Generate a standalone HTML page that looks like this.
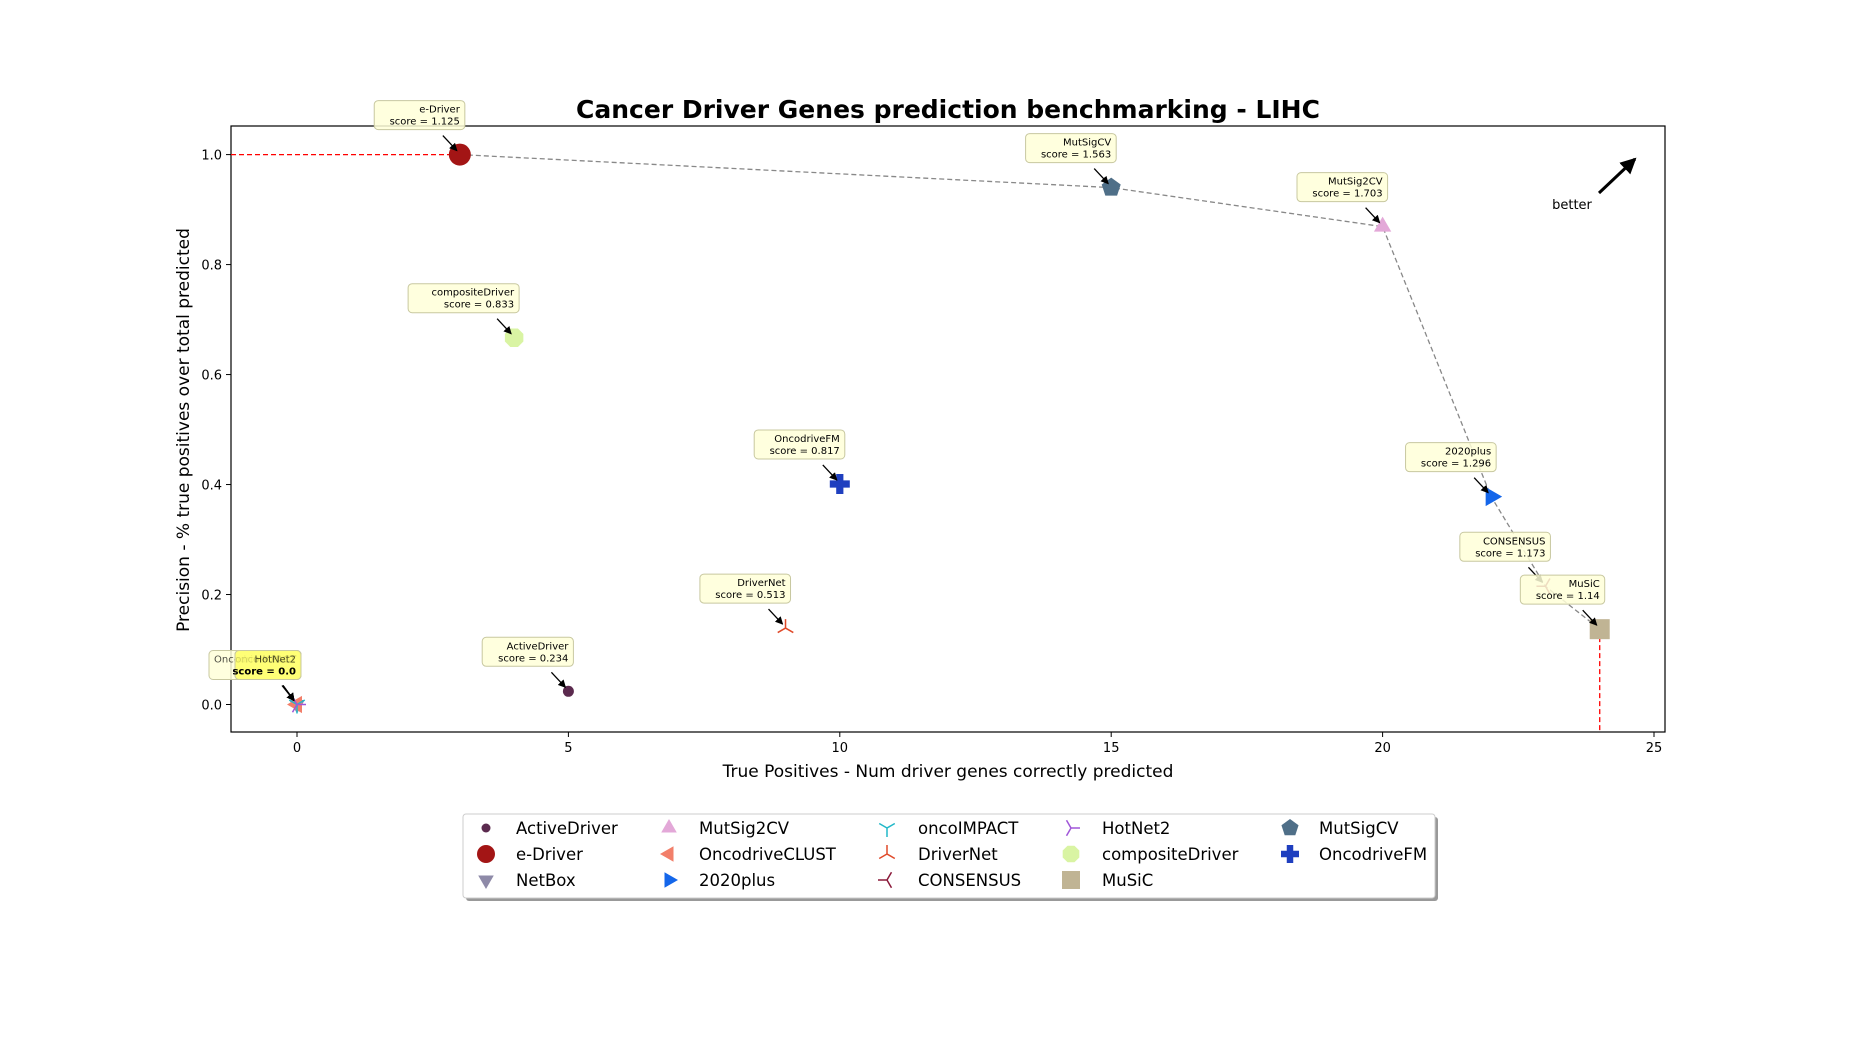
<!DOCTYPE html>
<html><head><meta charset="utf-8"><style>
html,body{margin:0;padding:0;background:#fff;}
svg{display:block;font-family:"DejaVu Sans","Liberation Sans",sans-serif;}
</style></head><body>
<svg id="chart" width="1850" height="1050" viewBox="0 0 1850 1050" xmlns="http://www.w3.org/2000/svg">
<defs><marker id="ah" markerWidth="8" markerHeight="8" refX="7" refY="4" orient="auto" markerUnits="userSpaceOnUse"><path d="M0,0 L8,4 L0,8 Z" fill="#000"/></marker>
<marker id="ahb" markerWidth="16" markerHeight="16" refX="14" refY="8" orient="auto" markerUnits="userSpaceOnUse"><path d="M0,0 L16,8 L0,16 Z" fill="#000"/></marker></defs>
<text x="948" y="118" text-anchor="middle" font-size="25" font-weight="bold">Cancer Driver Genes prediction benchmarking - LIHC</text>
<g id="plot"></g>
</svg>
<script>
const methods = ["ActiveDriver","e-Driver","NetBox","MutSig2CV","OncodriveCLUST","2020plus","oncoIMPACT","DriverNet","CONSENSUS","HotNet2","compositeDriver","MuSiC","MutSigCV","OncodriveFM"];
const truePositives = [5,3,0,20,0,22,0,9,23,0,4,24,15,10];
const precisions = [0.024,1.0,0,0.869,0,0.378,0,0.139,0.215,0,0.667,0.137,0.94,0.401];
const scores = ["0.234","1.125","0.0","1.703","0.0","1.296","0.0","0.513","1.173","0.0","0.833","1.14","1.563","0.817"];
const paretoFront = ["e-Driver","MutSigCV","MutSig2CV","2020plus","CONSENSUS","MuSiC"];
const xTicks = [0,5,10,15,20,25];
const yTicks = [0.0,0.2,0.4,0.6,0.8,1.0];

const style = {
 "ActiveDriver":{c:"#5b2a4e",m:"circle",s:5.5},
 "e-Driver":{c:"#a31515",m:"circle",s:11},
 "NetBox":{c:"#8e8aa8",m:"tridown",s:9},
 "MutSig2CV":{c:"#e3a8d8",m:"triup",s:10},
 "OncodriveCLUST":{c:"#f27f6a",m:"trileft",s:10},
 "2020plus":{c:"#1466ea",m:"triright",s:11},
 "oncoIMPACT":{c:"#22b8c8",m:"y",s:9},
 "DriverNet":{c:"#e04a2a",m:"ytri",s:9},
 "CONSENSUS":{c:"#8b1a3a",m:"yleft",s:9},
 "HotNet2":{c:"#a056d8",m:"yright",s:9},
 "compositeDriver":{c:"#d9f4a3",m:"octagon",s:10},
 "MuSiC":{c:"#c0b494",m:"square",s:10},
 "MutSigCV":{c:"#4f6f88",m:"pentagon",s:10},
 "OncodriveFM":{c:"#1f3fbf",m:"plus",s:10}
};
const L=231,R=1665,T=126,B=732;
const x0=297, xu=(1654-297)/25;
const y0=704.5, yu=(704.5-154.6)/1.0;
function X(v){return x0+v*xu;}
function Y(v){return y0-v*yu;}
const NS="http://www.w3.org/2000/svg";
const plot=document.getElementById('plot');
function el(tag,attrs,parent){const e=document.createElementNS(NS,tag);for(const k in attrs)e.setAttribute(k,attrs[k]);(parent||plot).appendChild(e);return e;}
function poly(n,r,rot){let p=[];for(let i=0;i<n;i++){const a=rot+i*2*Math.PI/n;p.push((r*Math.cos(a)).toFixed(2)+","+(r*Math.sin(a)).toFixed(2));}return p.join(" ");}
function drawMarker(g,m,c,s){
 if(m==="circle")return el('circle',{cx:0,cy:0,r:s,fill:c},g);
 if(m==="square")return el('rect',{x:-s,y:-s,width:2*s,height:2*s,fill:c},g);
 if(m==="octagon")return el('polygon',{points:poly(8,s,Math.PI/8),fill:c},g);
 if(m==="pentagon")return el('polygon',{points:poly(5,s,-Math.PI/2),fill:c},g);
 if(m==="triup")return el('polygon',{points:poly(3,s,-Math.PI/2),fill:c},g);
 if(m==="tridown")return el('polygon',{points:poly(3,s,Math.PI/2),fill:c},g);
 if(m==="trileft")return el('polygon',{points:poly(3,s,Math.PI),fill:c},g);
 if(m==="triright")return el('polygon',{points:poly(3,s,0),fill:c},g);
 if(m==="plus"){const w=s*0.36;return el('path',{d:`M${-w},${-s}H${w}V${-w}H${s}V${w}H${w}V${s}H${-w}V${w}H${-s}V${-w}H${-w}Z`,fill:c},g);}
 const rot={y:-Math.PI/2,ytri:Math.PI/2,yleft:Math.PI,yright:0}[m];
 let d="";for(let i=0;i<3;i++){const a=rot+i*2*Math.PI/3;d+=`M0,0L${(s*Math.cos(a)).toFixed(2)},${(-s*Math.sin(a)).toFixed(2)}`;}
 return el('path',{d:d,stroke:c,"stroke-width":1.5,fill:"none"},g);
}
const frame=el('rect',{x:L,y:T,width:R-L,height:B-T,fill:"none",stroke:"#000","stroke-width":1.2});


xTicks.forEach(v=>{
 const g=el('g',{});
 
 
 el('line',{x1:X(v),x2:X(v),y1:B,y2:B+5,stroke:"#000"},g);
 const t=el('text',{x:X(v),y:B+20,"text-anchor":"middle","font-size":13},g);t.textContent=v;
});
yTicks.forEach(v=>{
 const g=el('g',{});
 
 
 el('line',{x1:L-5,x2:L,y1:Y(v),y2:Y(v),stroke:"#000"},g);
 const t=el('text',{x:L-9,y:Y(v)+5,"text-anchor":"end","font-size":13},g);t.textContent=v.toFixed(1);
});
const xl=el('text',{x:948,y:777,"text-anchor":"middle","font-size":17});xl.textContent="True Positives - Num driver genes correctly predicted";


const yl=el('text',{x:0,y:0,"text-anchor":"middle","font-size":17,transform:"translate(189,430) rotate(-90)"});yl.textContent="Precision - % true positives over total predicted";


const idx=n=>methods.indexOf(n);
const first=idx(paretoFront[0]), last=idx(paretoFront[paretoFront.length-1]);
const r1=el('line',{x1:L,y1:Y(precisions[first]),x2:X(truePositives[first]),y2:Y(precisions[first]),stroke:"#f00","stroke-width":1.3,"stroke-dasharray":"5,3"});


const r2=el('line',{x1:X(truePositives[last]),y1:Y(precisions[last]),x2:X(truePositives[last]),y2:B,stroke:"#f00","stroke-width":1.3,"stroke-dasharray":"5,3"});


const pf=el('polyline',{points:paretoFront.map(n=>X(truePositives[idx(n)])+","+Y(precisions[idx(n)])).join(" "),fill:"none",stroke:"#888","stroke-width":1.3,"stroke-dasharray":"5,3"});


methods.forEach((n,i)=>{
 const st=style[n];
 const g=el('g',{transform:`translate(${X(truePositives[i])},${Y(precisions[i])})`});
 
 
 drawMarker(g,st.m,st.c,st.s);
});
methods.forEach((n,i)=>{
 const px=X(truePositives[i]),py=Y(precisions[i]);
 const zero=scores[i]==="0.0";
 const g=el('g',{});
 
 
 const right=zero?(n==="OncodriveCLUST"?px+3:px+4):px+5, bottom=py-25;
 const w=zero?(n==="OncodriveCLUST"?91:66):Math.max(n.length*6.6+12, ("score = "+scores[i]).length*6.2+10), h=29;
 const lx=right-w;
 el('rect',{x:lx,y:bottom-h,width:w,height:h,rx:4,fill:zero&&n!=="OncodriveCLUST"?"#ffff70":"#ffffd8","fill-opacity":zero&&n!=="OncodriveCLUST"?0.75:0.85,stroke:"#c8c8a0","stroke-width":1},g);
 const t1=el('text',{x:n==="OncodriveCLUST"?lx+5:right-5,y:bottom-17,"text-anchor":n==="OncodriveCLUST"?"start":"end","font-size":10,"fill-opacity":zero?0.7:1},g);t1.textContent=n;
 if(n!=="OncodriveCLUST"||!zero){const t2=el('text',{x:right-5,y:bottom-5,"text-anchor":"end","font-size":10,"font-weight":zero?"bold":"normal"},g);t2.textContent="score = "+scores[i];}
 el('line',{x1:right-(zero?18:22),y1:bottom+6,x2:px-3,y2:py-4,stroke:"#000","stroke-width":1.3,"marker-end":"url(#ah)"},g);
});
const bg=el('g',{});


el('line',{x1:1599,y1:193,x2:1635,y2:159,stroke:"#000","stroke-width":3,"marker-end":"url(#ahb)"},bg);
const bt=el('text',{x:1572,y:209,"text-anchor":"middle","font-size":13},bg);bt.textContent="better";
const lg=el('g',{});


el('rect',{x:466,y:817,width:972,height:84,fill:"#999",rx:3},lg);
el('rect',{x:463,y:814,width:972,height:84,fill:"#fff",stroke:"#ccc",rx:3},lg);
const colM=[486,669,887,1071,1290], colT=[516,699,918,1102,1319], rowY=[828,854,880];
methods.forEach((n,i)=>{
 const c=Math.floor(i/3), r=i%3;
 const e=el('g',{},lg);
 
 
 const mg=el('g',{transform:`translate(${colM[c]},${rowY[r]})`},e);
 const st=style[n];
 drawMarker(mg,st.m,st.c,n==="ActiveDriver"?4.5:Math.min(st.s,9));
 const t=el('text',{x:colT[c],y:rowY[r]+6,"font-size":16.5},e);t.textContent=n;
});
</script>
</body></html>
